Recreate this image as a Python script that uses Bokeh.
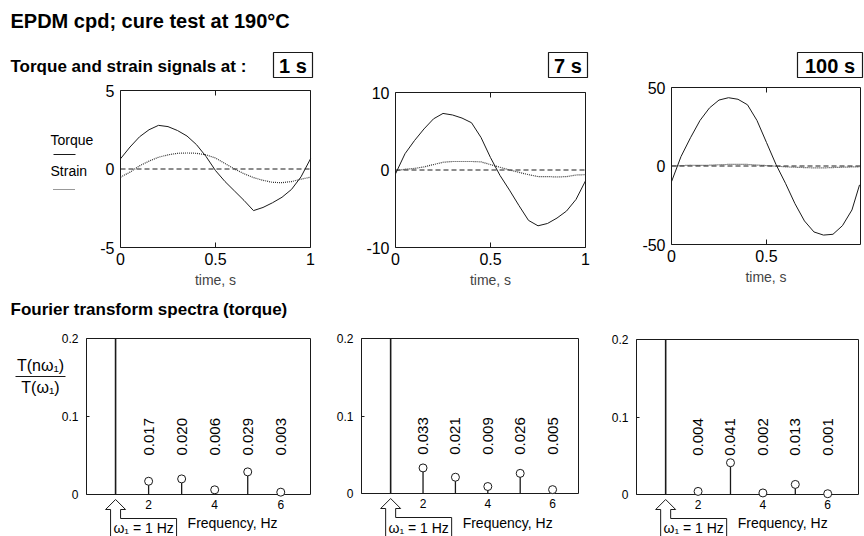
import numpy as np
from bokeh.plotting import figure
from bokeh.models import Range1d, LinearAxis, FixedTicker, NumeralTickFormatter
from bokeh.core.properties import value
from bokeh.embed import file_html
from bokeh.resources import INLINE

W, H = 864, 536
FONT = "Liberation Sans"

# ---------------- data ----------------
main_title = "EPDM cpd; cure test at 190°C"
signals_title = "Torque and strain signals at :"
spectra_title = "Fourier transform spectra (torque)"
cure_times = ["1 s", "7 s", "100 s"]

time_s = [0.00, 0.05, 0.10, 0.15, 0.20, 0.25, 0.30, 0.35, 0.40, 0.45, 0.50,
          0.55, 0.60, 0.65, 0.70, 0.75, 0.80, 0.85, 0.90, 0.95, 1.00]
time_100s = [0.00, 0.05, 0.10, 0.15, 0.20, 0.25, 0.30, 0.35, 0.40, 0.45, 0.50,
             0.55, 0.60, 0.65, 0.70, 0.75, 0.80, 0.85, 0.90, 0.95, 0.99]

torque_1s = [0.65, 1.4, 2.05, 2.5, 2.78, 2.7, 2.45, 2.1, 1.55, 0.8, -0.1,
             -0.8, -1.4, -2.0, -2.65, -2.45, -2.15, -1.8, -1.3, -0.5, 0.65]
strain_1s = [-0.52, -0.2, 0.2, 0.5, 0.75, 0.9, 1.0, 1.02, 1.0, 0.9, 0.7,
             0.35, 0.0, -0.3, -0.55, -0.72, -0.85, -0.87, -0.8, -0.65, -0.52]

torque_7s = [-0.5, 2.1, 3.8, 5.3, 6.6, 7.3, 7.1, 6.7, 6.1, 4.2, 1.6,
             -0.7, -2.6, -4.6, -6.5, -7.2, -6.9, -6.2, -5.3, -3.8, -1.4]
strain_7s = [-0.1, 0.1, 0.2, 0.4, 0.7, 1.0, 1.1, 1.1, 1.1, 1.05, 0.7,
             0.35, 0.0, -0.3, -0.6, -0.85, -0.85, -0.9, -0.85, -0.65, -0.6]

torque_100s = [-10, 6, 18, 29, 37, 42, 43.5, 42.5, 39, 29, 15,
               1, -11, -24, -35, -42, -44, -43.5, -38, -28, -12]
strain_100s = [0.0, 0.2, 0.5, 0.4, 0.5, 0.8, 1.0, 1.0, 1.0, 0.6, 0.3,
               -0.1, -0.5, -0.8, -1.0, -1.2, -1.2, -1.0, -0.8, -0.6, -0.5]

harmonic_hz = [2, 3, 4, 5, 6]
fundamental_hz = 1
fundamental_ratio = 1.0
spectrum_1s = [0.017, 0.020, 0.006, 0.029, 0.003]
spectrum_7s = [0.033, 0.021, 0.009, 0.026, 0.005]
spectrum_100s = [0.004, 0.041, 0.002, 0.013, 0.001]

top_xlim = [(0, 1), (0, 1), (0, 0.995)]
top_ylim = [(-5, 5), (-10, 10), (-50, 50)]
top_xticks = [[0, 0.5, 1], [0, 0.5, 1], [0, 0.5]]
top_yticks = [[-5, 0, 5], [-10, 0, 10], [-50, 0, 50]]
bot_xlim = [(0.12, 6.9), (0.1, 6.8), (0.1, 6.95)]
bot_ylim = (0, 0.2)
bot_xticks = [2, 4, 6]
bot_yticks = [0, 0.1, 0.2]

# ---------------- layout (pixels: left, right, top, bottom) ----------------
top_boxes = [(120, 310, 90, 247), (395, 585, 92, 247), (671, 860, 87, 244)]
bot_boxes = [(86, 310, 338, 494), (361, 578, 338, 493), (636, 858, 339, 494)]
time_boxes = [(273, 312), (548, 587), (797, 862)]

p = figure(width=W, height=H, x_range=Range1d(0, W), y_range=Range1d(H, 0),
           output_backend="svg", toolbar_location=None,
           x_axis_location=None, y_axis_location=None, min_border=0,
           outline_line_color=None, background_fill_color="white",
           border_fill_color="white")
p.grid.visible = False


def px_range(v0, v1, a, b, total):
    scale = (v1 - v0) / (b - a)
    start = v0 - a * scale
    return Range1d(start=start, end=start + total * scale)


INK = "#1a1a1a"
DOT = "#333333"


def txt(x, y, s, size, bold=False, align="left", **kw):
    p.text(x=x, y=y, text=s, text_font=value(FONT), text_font_size=f"{size}px",
           text_font_style="bold" if bold else "normal", text_align=align,
           text_baseline="middle", text_color="black", **kw)


def style_axis(ax, size):
    ax.axis_line_color = None
    ax.major_label_text_font = FONT
    ax.major_label_text_font_size = f"{size}px"
    ax.major_label_text_color = "black"
    ax.minor_tick_line_color = None
    ax.major_tick_line_color = INK
    ax.formatter = NumeralTickFormatter(format="0.[0]")
    ax.axis_label_text_font = FONT
    ax.axis_label_text_font_style = "normal"


# ---------------- headings ----------------
txt([10], [20], [main_title], 20, bold=True)
txt([10], [66], [signals_title], 17, bold=True)
txt([10], [309], [spectra_title], 17, bold=True)

for (l, r), lab in zip(time_boxes, cure_times):
    p.quad(left=[l], right=[r], top=[52], bottom=[77], fill_color=None,
           line_color=INK, line_width=1.2)
    txt([(l + r) / 2], [65.5], [lab], 20, bold=True, align="center")

# legend of first panel
txt([50], [139], ["Torque"], 14)
p.line([53, 75], [154, 154], line_color=INK, line_width=1)
txt([50], [170.5], ["Strain"], 14)
p.line([53, 75], [189, 189], line_color=DOT, line_width=1.2, line_dash="1 1")

# ---------------- signal panels ----------------
signals = [(time_s, torque_1s, strain_1s), (time_s, torque_7s, strain_7s),
           (time_100s, torque_100s, strain_100s)]
for i, ((l, r, t, b), xl, yl, xt, yt, (tt, tq, st)) in enumerate(
        zip(top_boxes, top_xlim, top_ylim, top_xticks, top_yticks, signals)):
    xn, yn = f"tx{i}", f"ty{i}"
    p.extra_x_ranges[xn] = px_range(xl[0], xl[1], l, r, W)
    p.extra_y_ranges[yn] = px_range(yl[0], yl[1], H - b, H - t, H)
    kw = dict(x_range_name=xn, y_range_name=yn)
    p.quad(left=[xl[0]], right=[xl[1]], bottom=[yl[0]], top=[yl[1]],
           fill_color=None, line_color=INK, line_width=1, **kw)
    p.line([xl[0], xl[1]], [0, 0], line_color=INK, line_dash="5 3", line_width=1, **kw)
    p.line(tt, st, line_color=DOT, line_dash="1 1", line_width=1.2, **kw)
    p.line(tt, tq, line_color=INK, line_width=1, **kw)

    xa = LinearAxis(fixed_location=yl[0], bounds=xl, ticker=FixedTicker(ticks=xt),
                    axis_label="time, s", **kw)
    style_axis(xa, 16)
    xa.major_tick_in, xa.major_tick_out = 5, 0
    xa.major_label_standoff = 5
    xa.axis_label_standoff = 4
    xa.axis_label_text_font_size = "14px"
    p.add_layout(xa, "below")

    xa2 = LinearAxis(fixed_location=yl[1], bounds=xl, ticker=FixedTicker(ticks=xt), **kw)
    style_axis(xa2, 16)
    xa2.major_tick_in, xa2.major_tick_out = 5, 0
    xa2.major_label_text_color = None
    p.add_layout(xa2, "above")

    ya = LinearAxis(fixed_location=xl[0], bounds=yl, ticker=FixedTicker(ticks=yt), **kw)
    style_axis(ya, 16)
    ya.major_tick_in, ya.major_tick_out = 0, 0
    ya.major_label_standoff = 6
    p.add_layout(ya, "left")

# ---------------- spectra panels ----------------
# y label as a fraction
txt([40], [364.5], ["T(nω₁)"], 16, align="center")
p.line([15, 65], [376, 376], line_color=INK, line_width=1)
txt([40], [386.5], ["T(ω₁)"], 16, align="center")

spectra = [spectrum_1s, spectrum_7s, spectrum_100s]
for i, ((l, r, t, b), xl, spec) in enumerate(zip(bot_boxes, bot_xlim, spectra)):
    xn, yn = f"bx{i}", f"by{i}"
    xr = px_range(xl[0], xl[1], l, r, W)
    p.extra_x_ranges[xn] = xr
    p.extra_y_ranges[yn] = px_range(bot_ylim[0], bot_ylim[1], H - b, H - t, H)
    kw = dict(x_range_name=xn, y_range_name=yn)
    p.quad(left=[xl[0]], right=[xl[1]], bottom=[bot_ylim[0]], top=[bot_ylim[1]],
           fill_color=None, line_color=INK, line_width=1, **kw)
    # fundamental (off scale, clipped at top of axis)
    p.segment(x0=[fundamental_hz], y0=[0], x1=[fundamental_hz],
              y1=[min(fundamental_ratio, bot_ylim[1])], line_color=INK,
              line_width=1.6, **kw)
    p.segment(x0=harmonic_hz, y0=[0] * 5, x1=harmonic_hz, y1=spec,
              line_color=INK, line_width=1.3, **kw)
    p.scatter(harmonic_hz, spec, size=8, marker="circle", fill_color="white",
              line_color=INK, line_width=1, **kw)
    p.text(x=harmonic_hz, y=[0.05] * 5, text=[f"{v:.3f}" for v in spec],
           angle=np.pi / 2, text_align="left", text_baseline="middle",
           text_font=value(FONT), text_font_size="15px", text_color="black", **kw)

    xa = LinearAxis(fixed_location=bot_ylim[0], bounds=xl,
                    ticker=FixedTicker(ticks=bot_xticks), **kw)
    style_axis(xa, 12)
    xa.major_tick_in, xa.major_tick_out = 0, 0
    xa.major_label_standoff = 5
    p.add_layout(xa, "below")

    ya = LinearAxis(fixed_location=xl[0], bounds=bot_ylim,
                    ticker=FixedTicker(ticks=bot_yticks), **kw)
    style_axis(ya, 12)
    ya.major_tick_in, ya.major_tick_out = 3, 0
    ya.major_label_standoff = 8
    p.add_layout(ya, "left")

    # arrow marking the fundamental and its label box (pixel offsets from x = 1 Hz)
    x1 = l + (fundamental_hz - xl[0]) / (xl[1] - xl[0]) * (r - l)
    ax_ = [x1 - 5, x1 - 5, x1 - 10, x1, x1 + 10, x1 + 5, x1 + 5, x1 + 61, x1 + 61]
    ay_ = [536, b + 15, b + 15, b + 5, b + 15, b + 15, b + 24, b + 24, 536]
    p.line(ax_, ay_, line_color=INK, line_width=1)
    txt([x1 + 28], [527.5], ["ω₁ = 1 Hz"], 14, align="center")
    txt([x1 + 72], [522], ["Frequency, Hz"], 14)

open("out.html", "w").write(file_html(p, INLINE))
